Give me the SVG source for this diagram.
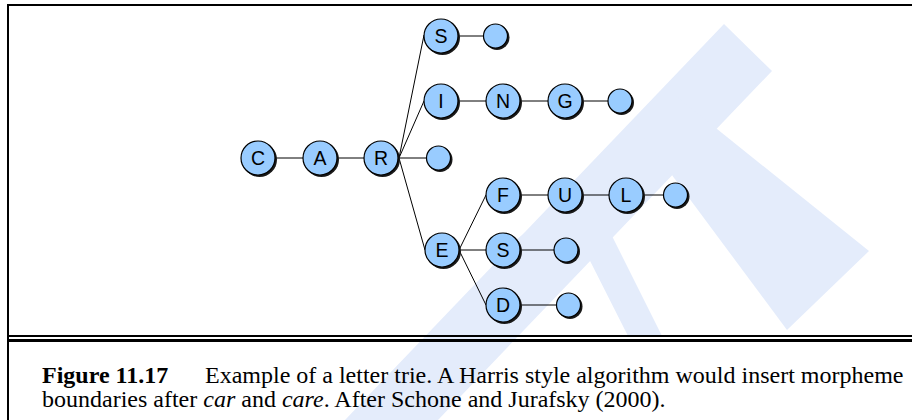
<svg xmlns="http://www.w3.org/2000/svg" width="912" height="420" viewBox="0 0 912 420">
<style>
.wm{fill:#e4ecfb;stroke:none}
.frame{stroke:#000;fill:none}
.edge{stroke:#000;stroke-width:1;fill:none}
.sh{fill:#1a1a1a}
.nd{fill:#99ccff;stroke:#000;stroke-width:1.2}
.lb{font-family:"Liberation Sans",Arial,sans-serif;font-size:19.5px;fill:#000;text-anchor:middle}
.cap{font-family:"Liberation Serif","Times New Roman",serif;font-size:24px;fill:#000}
</style>
<rect width="912" height="420" fill="#fff"/>
<g id="watermark">
<polygon class="wm" points="724,24 772,71 438,420 345,420"/>
<polygon class="wm" points="640,132 676,96 869,251 787,330"/>
<path class="wm" d="M505,250 Q555,200 605,222 L662,336 L628,336 L582,245 Q560,228 530,262 Z"/>
</g>
<g id="frame">
<line class="frame" x1="8" y1="4" x2="8" y2="420" stroke-width="2"/>
<line class="frame" x1="7" y1="5" x2="912" y2="5" stroke-width="2"/>
<line class="frame" x1="8" y1="336" x2="912" y2="336" stroke-width="2"/>
<line class="frame" x1="8" y1="340.5" x2="912" y2="340.5" stroke-width="3"/>
</g>
<g id="connectors">
<line class="edge" x1="275" y1="158" x2="303" y2="158"/>
<line class="edge" x1="337" y1="158" x2="364" y2="158"/>
<line class="edge" x1="399" y1="158" x2="424" y2="35"/>
<line class="edge" x1="399" y1="158" x2="424" y2="101"/>
<line class="edge" x1="399" y1="158" x2="427" y2="158"/>
<line class="edge" x1="399" y1="158" x2="425" y2="250"/>
<line class="edge" x1="458" y1="36" x2="484" y2="36"/>
<line class="edge" x1="458" y1="101" x2="486" y2="101"/>
<line class="edge" x1="520" y1="101" x2="548" y2="101"/>
<line class="edge" x1="582" y1="101" x2="608" y2="101"/>
<line class="edge" x1="459" y1="250" x2="486" y2="195"/>
<line class="edge" x1="459" y1="250" x2="486" y2="250"/>
<line class="edge" x1="459" y1="250" x2="486" y2="305"/>
<line class="edge" x1="520" y1="195" x2="548" y2="195"/>
<line class="edge" x1="582" y1="195" x2="609" y2="195"/>
<line class="edge" x1="643" y1="195" x2="664" y2="195"/>
<line class="edge" x1="520" y1="250" x2="555" y2="250"/>
<line class="edge" x1="520" y1="305" x2="557" y2="305"/>
</g>
<g id="n-C"><circle class="sh" cx="259.5" cy="159.5" r="17.5"/><circle class="nd" cx="258" cy="158" r="17"/><text class="lb" x="258" y="165">C</text></g>
<g id="n-A"><circle class="sh" cx="321.5" cy="159.5" r="17.5"/><circle class="nd" cx="320" cy="158" r="17"/><text class="lb" x="320" y="165">A</text></g>
<g id="n-R"><circle class="sh" cx="382.5" cy="159.5" r="17.5"/><circle class="nd" cx="381" cy="158" r="17"/><text class="lb" x="381" y="165">R</text></g>
<g id="n-R-end"><circle class="sh" cx="440" cy="159.5" r="12.5"/><circle class="nd" cx="438.5" cy="158" r="12"/></g>
<g id="n-S1"><circle class="sh" cx="442.5" cy="37.5" r="17.5"/><circle class="nd" cx="441" cy="36" r="17"/><text class="lb" x="441" y="43">S</text></g>
<g id="n-S1-end"><circle class="sh" cx="497" cy="37.5" r="12.5"/><circle class="nd" cx="495.5" cy="36" r="12"/></g>
<g id="n-I"><circle class="sh" cx="442.5" cy="102.5" r="17.5"/><circle class="nd" cx="441" cy="101" r="17"/><text class="lb" x="441" y="108">I</text></g>
<g id="n-N"><circle class="sh" cx="504.5" cy="102.5" r="17.5"/><circle class="nd" cx="503" cy="101" r="17"/><text class="lb" x="503" y="108">N</text></g>
<g id="n-G"><circle class="sh" cx="566.5" cy="102.5" r="17.5"/><circle class="nd" cx="565" cy="101" r="17"/><text class="lb" x="565" y="108">G</text></g>
<g id="n-G-end"><circle class="sh" cx="621.5" cy="102.5" r="12.5"/><circle class="nd" cx="620" cy="101" r="12"/></g>
<g id="n-E"><circle class="sh" cx="443.5" cy="251.5" r="17.5"/><circle class="nd" cx="442" cy="250" r="17"/><text class="lb" x="442" y="257">E</text></g>
<g id="n-F"><circle class="sh" cx="504.5" cy="196.5" r="17.5"/><circle class="nd" cx="503" cy="195" r="17"/><text class="lb" x="503" y="202">F</text></g>
<g id="n-U"><circle class="sh" cx="566.5" cy="196.5" r="17.5"/><circle class="nd" cx="565" cy="195" r="17"/><text class="lb" x="565" y="202">U</text></g>
<g id="n-L"><circle class="sh" cx="627.5" cy="196.5" r="17.5"/><circle class="nd" cx="626" cy="195" r="17"/><text class="lb" x="626" y="202">L</text></g>
<g id="n-L-end"><circle class="sh" cx="677" cy="196.5" r="12.5"/><circle class="nd" cx="675.5" cy="195" r="12"/></g>
<g id="n-S2"><circle class="sh" cx="504.5" cy="251.5" r="17.5"/><circle class="nd" cx="503" cy="250" r="17"/><text class="lb" x="503" y="257">S</text></g>
<g id="n-S2-end"><circle class="sh" cx="567.5" cy="251.5" r="12.5"/><circle class="nd" cx="566" cy="250" r="12"/></g>
<g id="n-D"><circle class="sh" cx="504.5" cy="306.5" r="17.5"/><circle class="nd" cx="503" cy="305" r="17"/><text class="lb" x="503" y="312">D</text></g>
<g id="n-D-end"><circle class="sh" cx="570" cy="306.5" r="12.5"/><circle class="nd" cx="568.5" cy="305" r="12"/></g>
<g id="caption">
<text class="cap" x="42" y="383"><tspan font-weight="bold">Figure 11.17</tspan><tspan x="205">Example of a letter trie. A Harris style algorithm would insert morpheme</tspan></text>
<text class="cap" x="42" y="407">boundaries after <tspan font-style="italic">car</tspan> and <tspan font-style="italic">care</tspan>. After Schone and Jurafsky (2000).</text>
</g>
</svg>
